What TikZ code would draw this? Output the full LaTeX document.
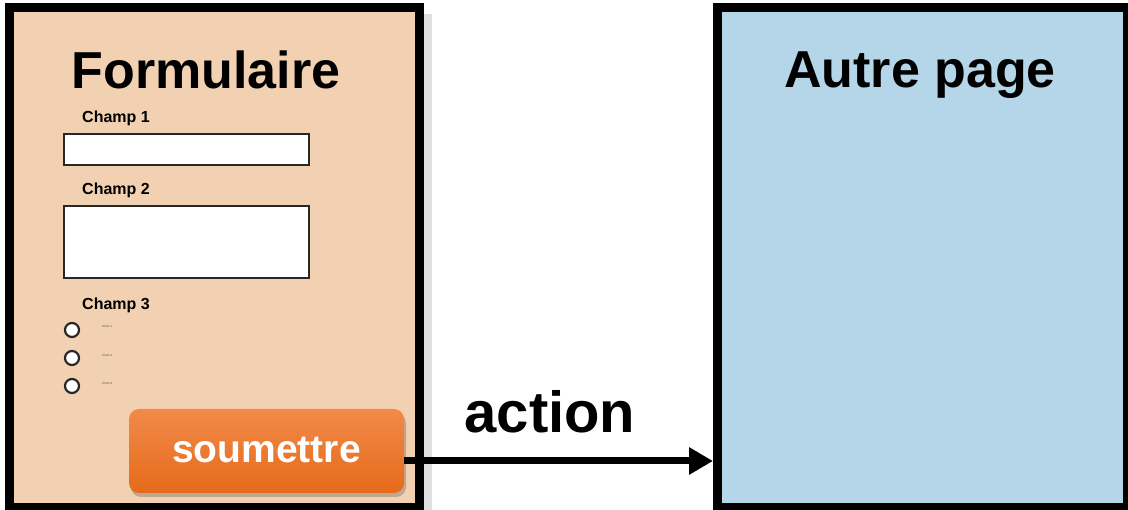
\documentclass[tikz,border=0pt]{standalone}
\usepackage{fontspec}
\setmainfont{Liberation Sans}
\usetikzlibrary{arrows.meta,shadows}
\definecolor{peach}{RGB}{241,209,177}
\definecolor{paleblue}{RGB}{181,213,233}
\definecolor{btntop}{RGB}{241,138,74}
\definecolor{btnbot}{RGB}{230,106,26}
\definecolor{fieldline}{RGB}{40,40,40}
\tikzset{
  page/.style={draw=black, line width=9pt, inner sep=0pt, anchor=north west},
  fieldbox/.style={draw=fieldline, line width=2pt, fill=white, inner sep=0pt, anchor=north west},
  fieldlabel/.style={anchor=base west, inner sep=0pt, font=\fontsize{16}{18}\selectfont\bfseries},
  bigtitle/.style={anchor=base, inner sep=0pt, font=\fontsize{52}{60}\selectfont\bfseries},
  radio/.style={circle, draw=fieldline, line width=2.2pt, fill=white, minimum size=14pt, inner sep=0pt},
  radiotext/.style={anchor=west, inner sep=0pt, text=black!70, font=\fontsize{3}{3}\selectfont},
  submitbtn/.style={rounded corners=10pt, top color=btntop, bottom color=btnbot, minimum width=275pt, minimum height=84pt, inner sep=0pt,
    drop shadow={shadow xshift=2pt, shadow yshift=-4pt, opacity=0.3, fill=black!70}},
  link/.style={line width=7pt, -{Triangle[length=24pt, width=26pt]}}
}
\begin{document}
\begin{tikzpicture}[x=1pt, y=-1pt]
\useasboundingbox (0,0) rectangle (1128,510);
\fill[black!12] (424,14) rectangle (432,510);
\node[page, fill=peach, minimum width=410pt, minimum height=499.5pt] (form) at (5,3.5) {};
\node[page, fill=paleblue, minimum width=410pt, minimum height=499.5pt] (other) at (713,3.5) {};
\node[bigtitle] (formtitle) at (206,89) {Formulaire};
\node[bigtitle] (othertitle) at (920,88) {Autre page};
\node[fieldlabel] (l1) at (82,123) {Champ 1};
\node[fieldbox, minimum width=245pt, minimum height=31pt] (f1) at (63,133) {};
\node[fieldlabel] (l2) at (82,195) {Champ 2};
\node[fieldbox, minimum width=245pt, minimum height=72pt] (f2) at (63,205) {};
\node[fieldlabel] (l3) at (82,310) {Champ 3};
\node[radio] (r1) at (72,330) {};
\node[radio] (r2) at (72,358) {};
\node[radio] (r3) at (72,386) {};
\node[radiotext] (t1) at (102,326) {Choix 1};
\node[radiotext] (t2) at (102,355) {Choix 2};
\node[radiotext] (t3) at (102,383) {Choix 3};
\node[submitbtn] (button) at (266.5,451) {};
\node[anchor=base, inner sep=0pt, text=white, font=\fontsize{39}{44}\selectfont\bfseries] (btntext) at (266.5,463) {soumettre};
\node[anchor=base, inner sep=0pt, font=\fontsize{58}{64}\selectfont\bfseries] (actionlabel) at (550,433) {action};
\coordinate (start) at ([yshift=-10pt]button.east);
\draw[link] (start) -- (start -| other.west);
\end{tikzpicture}
\end{document}
